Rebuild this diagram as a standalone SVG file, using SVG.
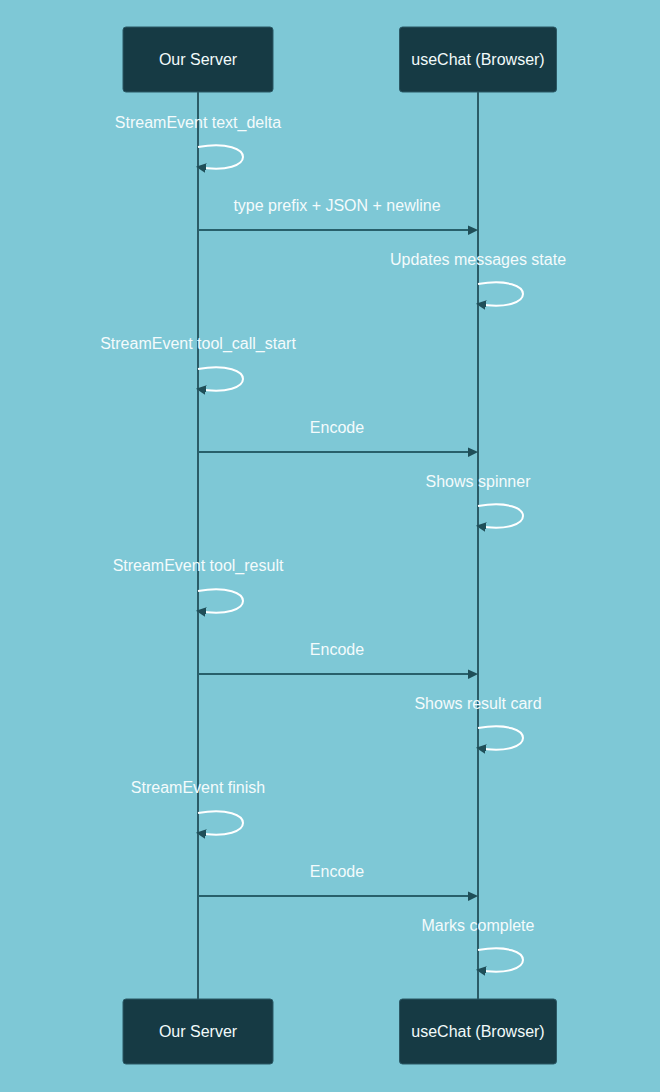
<svg xmlns="http://www.w3.org/2000/svg" width="660" height="1092" viewBox="0 0 660 1092">
<style>
.actor rect{fill:#163a44;stroke:#2b5965;stroke-width:1}
.actor text{fill:#f2fafb;font-family:"Liberation Sans",Arial,sans-serif;font-size:16px;text-anchor:middle;dominant-baseline:central}
.lifeline{stroke:#2b5c67;stroke-width:2}
.msg{stroke:#28606b;stroke-width:2;fill:none}
.loop{stroke:#ffffff;stroke-width:2;fill:none}
.lbl{fill:#f4fbfc;font-family:"Liberation Sans",Arial,sans-serif;font-size:16px;text-anchor:middle;dominant-baseline:central}
</style>
<defs>
<marker id="ah" refX="7.9" refY="5" markerUnits="userSpaceOnUse" markerWidth="12" markerHeight="12" orient="auto-start-reverse">
<path d="M -1 0 L 10 5 L 0 10 z" fill="#1f4e58"/>
</marker>
</defs>
<rect width="660" height="1092" fill="#7ec8d6"/>
<g id="lifelines">
<line class="lifeline" x1="198" y1="92" x2="198" y2="999"/>
<line class="lifeline" x1="478" y1="92" x2="478" y2="999"/>
</g>
<g id="server-top" class="actor"><rect x="123" y="27" width="150" height="65" rx="3"/><text x="198" y="59.5">Our Server</text></g>
<g id="browser-top" class="actor"><rect x="399.5" y="27" width="157" height="65" rx="3"/><text x="478" y="59.5">useChat (Browser)</text></g>
<g id="server-bottom" class="actor"><rect x="123" y="999" width="150" height="65" rx="3"/><text x="198" y="1031.5">Our Server</text></g>
<g id="browser-bottom" class="actor"><rect x="399.5" y="999" width="157" height="65" rx="3"/><text x="478" y="1031.5">useChat (Browser)</text></g>
<g id="connectors">
<path class="loop" d="M 198,147 C 258,137 258,177 198,167" marker-end="url(#ah)"/>
<line class="msg" x1="198" y1="230" x2="476" y2="230" marker-end="url(#ah)"/>
<path class="loop" d="M 478,284 C 538,274 538,314 478,304" marker-end="url(#ah)"/>
<path class="loop" d="M 198,369 C 258,359 258,399 198,389" marker-end="url(#ah)"/>
<line class="msg" x1="198" y1="452" x2="476" y2="452" marker-end="url(#ah)"/>
<path class="loop" d="M 478,506 C 538,496 538,536 478,526" marker-end="url(#ah)"/>
<path class="loop" d="M 198,591 C 258,581 258,621 198,611" marker-end="url(#ah)"/>
<line class="msg" x1="198" y1="674" x2="476" y2="674" marker-end="url(#ah)"/>
<path class="loop" d="M 478,728 C 538,718 538,758 478,748" marker-end="url(#ah)"/>
<path class="loop" d="M 198,813 C 258,803 258,843 198,833" marker-end="url(#ah)"/>
<line class="msg" x1="198" y1="896" x2="476" y2="896" marker-end="url(#ah)"/>
<path class="loop" d="M 478,950 C 538,940 538,980 478,970" marker-end="url(#ah)"/>
</g>
<g id="labels">
<text class="lbl" x="198" y="122">StreamEvent text_delta</text>
<text class="lbl" x="337" y="205">type prefix + JSON + newline</text>
<text class="lbl" x="478" y="259">Updates messages state</text>
<text class="lbl" x="198" y="343">StreamEvent tool_call_start</text>
<text class="lbl" x="337" y="427">Encode</text>
<text class="lbl" x="478" y="481">Shows spinner</text>
<text class="lbl" x="198" y="565">StreamEvent tool_result</text>
<text class="lbl" x="337" y="649">Encode</text>
<text class="lbl" x="478" y="703">Shows result card</text>
<text class="lbl" x="198" y="787">StreamEvent finish</text>
<text class="lbl" x="337" y="871">Encode</text>
<text class="lbl" x="478" y="925">Marks complete</text>
</g>
</svg>
